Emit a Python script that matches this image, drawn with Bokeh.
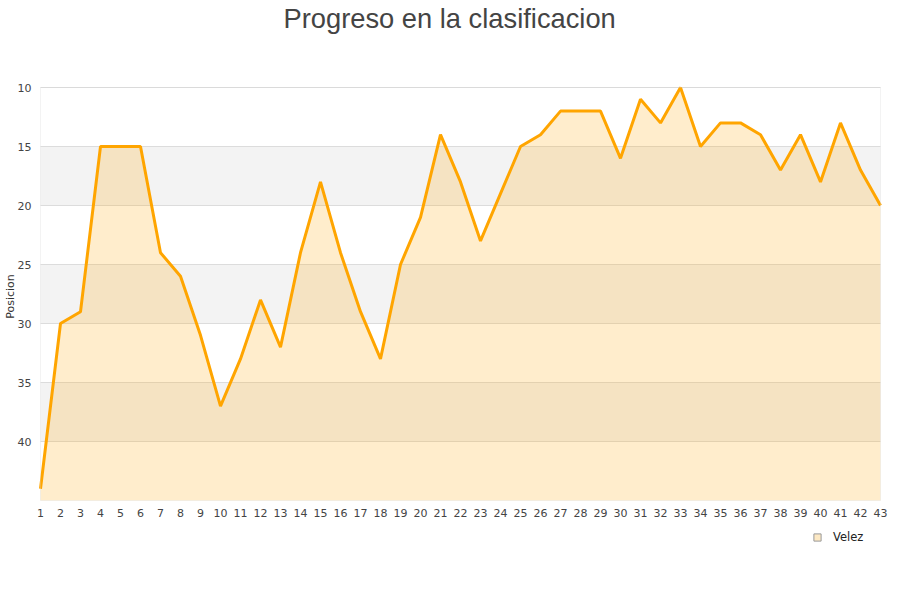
from bokeh.plotting import figure
from bokeh.models import (BoxAnnotation, Legend, LegendItem, FixedTicker, Range1d,
                          ColumnDataSource, Label)
from bokeh.embed import file_html
from bokeh.resources import INLINE

titulo = "Progreso en la clasificacion"
serie = "Velez"
eje_y = "Posicion"
jornadas = list(range(1, 44))
posicion = [44, 30, 29, 15, 15, 15, 24, 26, 31, 37,
            33, 28, 32, 24, 18, 24, 29, 33, 25, 21,
            14, 18, 23, 19, 15, 14, 12, 12, 12, 16,
            11, 13, 10, 15, 13, 13, 14, 17, 14, 18,
            13, 17, 20]
y_ticks = [10, 15, 20, 25, 30, 35, 40]
bandas = [(15, 20), (25, 30), (35, 40)]
y_min, y_max = 10, 45
x_first, x_last = jornadas[0], jornadas[-1]

# layout (pixels): the plot area inside the canvas
W, H = 892, 592
PAD_LEFT, PAD_RIGHT, PAD_TOP, PAD_BOTTOM = 40, 12, 87, 92
plot_w = W - PAD_LEFT - PAD_RIGHT
plot_h = H - PAD_TOP - PAD_BOTTOM
xu = (x_last - x_first) / plot_w
yu = (y_max - y_min) / plot_h
x_range = Range1d(x_first - PAD_LEFT * xu, x_last + PAD_RIGHT * xu)
y_range = Range1d(y_max + PAD_BOTTOM * yu, y_min - PAD_TOP * yu)

src = ColumnDataSource(dict(x=jornadas, y=posicion))
grid_src = ColumnDataSource(dict(x0=[x_first] * len(y_ticks),
                                 x1=[x_last] * len(y_ticks), y=y_ticks))

p = figure(width=W, height=H, x_range=x_range, y_range=y_range,
           output_backend="svg", toolbar_location=None,
           min_border_left=0, min_border_right=0,
           min_border_top=0, min_border_bottom=0)

p.outline_line_color = None
p.background_fill_color = "white"
p.border_fill_color = "white"
p.xgrid.grid_line_color = None
p.ygrid.grid_line_color = None

for lo, hi in bandas:
    p.add_layout(BoxAnnotation(left=x_first, right=x_last, bottom=lo, top=hi,
                               fill_color="#f3f3f3", fill_alpha=1.0,
                               line_color=None, level="underlay"))

p.segment(x0="x0", x1="x1", y0="y", y1="y", source=grid_src,
          line_color="#dcdcdc", line_width=1)

area = p.varea(x="x", y1="y", y2=y_max, source=src,
               fill_color="#ffa500", fill_alpha=0.2)
p.line(x="x", y="y", source=src, line_color="#ffa500", line_width=3)

# plot-area border
p.add_layout(BoxAnnotation(left=x_first, right=x_last, top=y_min, bottom=y_max,
                           fill_alpha=0, line_color="#d6d6d6", line_width=1))

# legend proxy (hidden renderer, only its legend glyph is drawn)
proxy = p.scatter(x="x", y="y", source=src, marker="square", size=7,
                  fill_color="#fde9c4", line_color="#999999", visible=False)

p.xaxis.ticker = FixedTicker(ticks=jornadas)
p.xaxis.fixed_location = y_max
p.yaxis.ticker = FixedTicker(ticks=y_ticks)
p.yaxis.fixed_location = x_first
for ax in (p.xaxis[0], p.yaxis[0]):
    ax.axis_line_color = None
    ax.major_tick_line_color = None
    ax.minor_tick_line_color = None
    ax.major_tick_out = 0
    ax.major_tick_in = 0
    ax.minor_tick_out = 0
    ax.minor_tick_in = 0
    ax.major_label_text_font = "DejaVu Sans"
    ax.major_label_text_font_size = "11px"
    ax.major_label_text_color = "#444444"
p.xaxis.major_label_standoff = 8
p.yaxis.major_label_standoff = 9
p.yaxis.axis_label = eje_y
p.yaxis.axis_label_text_font = "DejaVu Sans"
p.yaxis.axis_label_text_font_size = "11px"
p.yaxis.axis_label_text_font_style = "normal"
p.yaxis.axis_label_text_color = "#333333"
p.yaxis.axis_label_standoff = -2

p.add_layout(Label(x=283, y=H - 2, x_units="screen", y_units="screen",
                   text=titulo, text_font="Liberation Sans",
                   text_font_size="27.3px", text_color="#444444",
                   text_align="left", text_baseline="top"))

legend = Legend(items=[LegendItem(label=serie, renderers=[proxy])],
                location=(808, 46), orientation="horizontal",
                border_line_color=None, background_fill_alpha=0,
                inactive_fill_alpha=0,
                label_text_font="DejaVu Sans", label_text_font_size="11.5px",
                label_text_color="#222222", glyph_width=18, glyph_height=18,
                label_standoff=7, padding=4, margin=0, spacing=0)
p.add_layout(legend)

open("out.html", "w").write(file_html(p, INLINE))
